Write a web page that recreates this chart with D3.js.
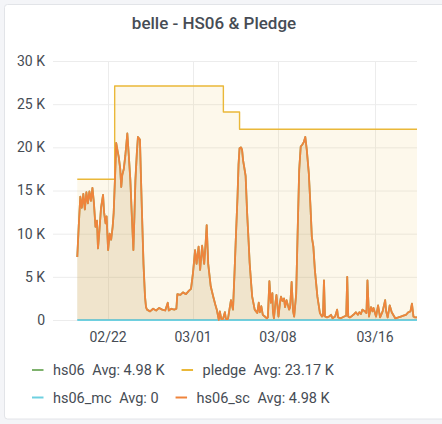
<!DOCTYPE html>
<html>
<head>
<meta charset="utf-8">
<script src="https://cdn.jsdelivr.net/npm/d3@7"></script>
<style>
body{margin:0;background:#f4f5f8;font-family:Roboto,"Noto Sans",sans-serif;}
svg{display:block;}
</style>
</head>
<body>
<div id="chart"></div>
<script>
// time range shown (last 30 days), data begins two days in
var rangeStart = new Date(Date.UTC(2019,1,17,11)),
    rangeEnd = new Date(Date.UTC(2019,2,19,11)),
    dataStart = new Date(Date.UTC(2019,1,19,11));

var xTickLabels = ["02/22","03/01","03/08","03/16"];
var yTicks = [0,5,10,15,20,25,30];

var seriesNames = ["hs06","pledge","hs06_mc","hs06_sc"];
var seriesColors = ["#7EB26D","#EAB839","#6ED0E0","#EF843C"];
var legendAvg = ["Avg: 4.98 K","Avg: 23.17 K","Avg: 0","Avg: 4.98 K"];

// hours after dataStart, values in K
var scHours = [0,3,6,9,12,15,18,21,24,27,30,33,36,39,41,44,47,51,53,56,58,61,64,67,70,72,
  75,77,80,82,85,87,89,92,95,99,102,105,108,111,113,115,118,120,124,126,128,131,134,136,138,
  144,150,156,162,168,174,179,181,186,192,196,198,204,209,215,221,225,229,233,236,240,243,247,
  251,254,256,259,264,269,273,276,280,282,285,288,292,294,298,304,308,311,314,317,319,321,324,
  326,328,330,333,336,339,341,344,346,351,356,359,361,364,367,371,375,377,380,383,386,387,389,
  392,394,398,401,403,406,409,411,414,419,421,424,427,429,433,436,439,442,445,448,451,454,458,
  461,464,467,470,475,480,484,486,488,490,494,498,502,505,510,514,516,521,528,532,534,536,539,
  544,548,551,555,558,561,564,569,572,574,577,581,584,586,591,595,599,604,609,611,614,618,622,
  629,635,640,645,650,655,659,662,665,668,672];
var scValues = [7.3,11.0,14.3,13.0,14.6,12.8,14.8,13.5,14.9,13.8,15.3,13.5,10.8,11.5,8.3,10.5,13.0,14.5,12.5,11.2,12.0,8.1,10.0,9.3,10.8,12.4,
  17.0,20.5,19.5,18.9,17.5,15.4,16.8,17.5,19.0,21.6,19.0,16.2,12.0,8.1,12.0,16.2,19.5,21.2,20.9,16.5,12.4,6.5,2.7,1.5,1.2,
  1.0,1.3,1.1,1.4,1.2,1.1,2.0,1.1,1.3,1.2,1.3,3.0,2.9,3.2,3.0,3.4,3.6,5.5,8.1,6.5,8.5,5.8,8.6,
  6.5,9.0,11.0,6.5,3.9,2.7,1.8,1.2,0,1.0,0.1,0.1,0.9,0.1,0.1,2.3,1.2,5.4,10.0,14.3,18.0,19.9,20.0,
  19.7,18.5,17.8,16.7,12.4,9.0,6.6,4.2,2.7,1.2,0.8,2.0,0.9,1.6,0.6,0.4,0.2,0.3,4.5,2.0,3.1,1.0,0.2,
  2.0,2.9,0.4,2.0,2.7,2.2,2.5,1.5,2.3,1.2,1.5,4.4,1.0,0.4,3.0,10.4,17.4,20.1,20.3,20.6,21.2,19.7,17.0,
  13.5,9.6,8.5,5.8,2.7,0.8,0.4,0.5,4.6,0.4,0.3,0.4,0.6,0.2,0.4,1.2,0.3,0.2,0.4,0.5,5.0,0.4,0.3,
  0.5,0.7,0.9,0.6,0.9,0.7,1.2,1.0,0.8,4.6,0.4,1.5,1.0,1.4,0.4,1.7,0.3,1.0,2.3,1.0,0.3,1.7,0.9,
  0.2,0.3,0.4,0.5,0.6,0.9,1.0,1.9,0.4,0.3,0.3];

var pledgeHours = [0,74,289,321,672];
var pledgeValues = [16.3,27.1,24.1,22.1,22.1];

var mcHours = [0,672];
var mcValues = [0,0];

function toPoints(hours, values){
    return hours.map((h,i)=>({t:d3.utcHour.offset(dataStart,h), v:values[i]}));
}
var series = [
    {pts:toPoints(scHours,scValues), step:false},
    {pts:toPoints(pledgeHours,pledgeValues), step:true},
    {pts:toPoints(mcHours,mcValues), step:false},
    {pts:toPoints(scHours,scValues), step:false}
];

var width = 442, height = 424;
var x = d3.scaleUtc().domain([rangeStart, rangeEnd]).range([53, 417]);
var y = d3.scaleLinear().domain([0, 30]).range([320, 61]);

var svg = d3.select("#chart").append("svg")
    .attr("width", width)
    .attr("height", height);

svg.append("rect")
    .attr("x",4.5).attr("y",4.5).attr("width",450).attr("height",414.5)
    .attr("rx",3).attr("fill","#fff").attr("stroke","#e2e4e8");

svg.append("text")
    .attr("x",214).attr("y",29)
    .attr("text-anchor","middle")
    .attr("font-size",17).attr("font-weight",500)
    .attr("fill","#464c54")
    .text("belle - HS06 & Pledge");

var parse = d3.utcParse("%Y/%m/%d");
var xTicks = xTickLabels.map(l=>parse("2019/"+l));

// grid
svg.append("g").selectAll("line.h").data(yTicks).enter().append("line")
    .attr("x1",53).attr("x2",417)
    .attr("y1",d=>y(d)+0.5).attr("y2",d=>y(d)+0.5)
    .attr("stroke","#ececec");
svg.append("g").selectAll("line.v").data(xTicks).enter().append("line")
    .attr("x1",d=>Math.round(x(d))+0.5).attr("x2",d=>Math.round(x(d))+0.5)
    .attr("y1",61).attr("y2",320)
    .attr("stroke","#ececec");

// axes labels
svg.append("g").selectAll("text").data(yTicks).enter().append("text")
    .attr("x",45).attr("y",d=>y(d)).attr("dy","0.35em")
    .attr("text-anchor","end").attr("font-size",14).attr("fill","#464c54")
    .text(d=>d==0?"0":d+" K");
svg.append("g").selectAll("text").data(xTicks).enter().append("text")
    .attr("x",d=>x(d)).attr("y",342)
    .attr("text-anchor","middle").attr("font-size",14).attr("fill","#464c54")
    .text(d3.utcFormat("%m/%d"));

// series
var plot = svg.append("g");
series.forEach(function(s,i){
    var curve = s.step ? d3.curveStepAfter : d3.curveLinear;
    var area = d3.area().x(d=>x(d.t)).y0(y(0)).y1(d=>y(d.v)).curve(curve);
    var line = d3.line().x(d=>x(d.t)).y(d=>y(d.v)).curve(curve);
    plot.append("path").datum(s.pts)
        .attr("d",area).attr("fill",seriesColors[i]).attr("fill-opacity",0.1);
    plot.append("path").datum(s.pts)
        .attr("d",line).attr("fill","none")
        .attr("stroke",seriesColors[i])
        .attr("stroke-width", i==1 ? 1.4 : 1.8)
        .attr("stroke-linejoin","round");
});

// legend, flowing left to right and wrapping
var lx = 32, ly = 370, maxX = 430;
seriesNames.forEach(function(name,i){
    var g = svg.append("g");
    g.append("line").attr("x1",0).attr("x2",11.5).attr("y1",0).attr("y2",0)
        .attr("stroke",seriesColors[i]).attr("stroke-width",2);
    var t1 = g.append("text").attr("x",21).attr("dy","0.35em")
        .attr("font-size",14.5).attr("fill","#464c54").text(name);
    var w1 = t1.node().getComputedTextLength();
    var t2 = g.append("text").attr("x",21+w1+7.5).attr("dy","0.35em")
        .attr("font-size",14.5).attr("fill","#464c54").text(legendAvg[i]);
    var w = 21+w1+7.5+t2.node().getComputedTextLength();
    if (lx + w > maxX) { lx = 32; ly += 27.5; }
    g.attr("transform","translate("+lx+","+ly+")");
    lx += w + 17;
});
</script>
</body>
</html>
